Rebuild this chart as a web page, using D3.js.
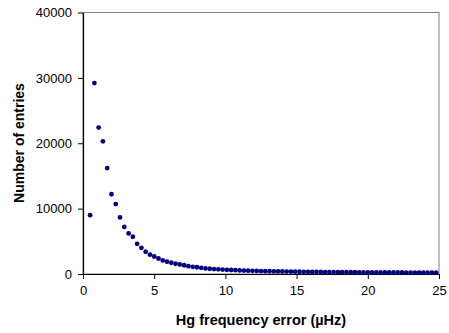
<!DOCTYPE html>
<html>
<head>
<meta charset="utf-8">
<script src="https://cdn.jsdelivr.net/npm/d3@7"></script>
<style>
	body { margin: 0; background: #fff; }
	text { font-family: 'Liberation Sans', Arial, sans-serif; }
</style>
</head>
<body>
<div id="draw"></div>
<script>
// frequency error bins (µHz)
const errorX = [
	0.5, 0.8, 1.1, 1.4, 1.7, 2.0, 2.3, 2.6, 2.9, 3.2, 3.5, 3.8, 4.1, 4.4, 4.7, 5.0,
	5.3, 5.6, 5.9, 6.2, 6.5, 6.8, 7.1, 7.4, 7.7, 8.0, 8.3, 8.6, 8.9, 9.2, 9.5, 9.8,
	10.1, 10.4, 10.7, 11.0, 11.3, 11.6, 11.9, 12.2, 12.5, 12.8, 13.1, 13.4, 13.7, 14.0,
	14.3, 14.6, 14.9, 15.2, 15.5, 15.8, 16.1, 16.4, 16.7, 17.0, 17.3, 17.6, 17.9, 18.2,
	18.5, 18.8, 19.1, 19.4, 19.7, 20.0, 20.3, 20.6, 20.9, 21.2, 21.5, 21.8, 22.1, 22.4,
	22.7, 23.0, 23.3, 23.6, 23.9, 24.2, 24.5, 24.8
];
// number of entries per bin
const entries = [
	9000, 29200, 22400, 20300, 16200, 12200, 10700, 8650, 7200, 6200, 5700, 4620, 4000, 3400, 2950, 2680,
	2370, 2080, 1880, 1720, 1570, 1450, 1340, 1200, 1100, 1030, 950, 860, 800, 760, 720, 680,
	640, 610, 580, 550, 530, 510, 490, 470, 450, 435, 420, 405, 395, 385,
	375, 365, 355, 345, 335, 325, 320, 310, 305, 300, 295, 290, 285, 280,
	275, 270, 265, 260, 255, 250, 248, 245, 240, 238, 235, 232, 230, 228,
	225, 222, 220, 218, 215, 212, 210, 208
];
const xTicks = [0, 5, 10, 15, 20, 25];
const yTicks = [0, 10000, 20000, 30000, 40000];

var margin = { top: 12.5, right: 10, bottom: 59, left: 83 },
	width = 449 - margin.left - margin.right,
	height = 333 - margin.top - margin.bottom;

var svg = d3
	.select('#draw')
	.append('svg')
	.attr('width', 449)
	.attr('height', 333)
	.append('g')
	.attr('transform', 'translate(' + margin.left + ',' + margin.top + ')');

var x = d3.scaleLinear().domain([0, 25]).range([0, 356]);
var y = d3.scaleLinear().domain([0, 40000]).range([height, 0]);

// plot area frame
svg
	.append('rect')
	.attr('x', 0)
	.attr('y', 0)
	.attr('width', 356)
	.attr('height', height)
	.attr('fill', 'none')
	.attr('stroke', '#808080')
	.attr('stroke-width', 1);

// x axis
var xAxis = svg
	.append('g')
	.attr('transform', 'translate(0,' + height + ')')
	.call(d3.axisBottom(x).tickValues(xTicks).tickSize(5).tickPadding(7).tickSizeOuter(0));

// y axis
var yAxis = svg
	.append('g')
	.call(
		d3
			.axisLeft(y)
			.tickValues(yTicks)
			.tickFormat(d3.format('d'))
			.tickSize(5)
			.tickPadding(6)
			.tickSizeOuter(0)
	);

[xAxis, yAxis].forEach(function (g) {
	g.select('.domain').attr('stroke', '#000').attr('stroke-width', 1.2);
	g.selectAll('.tick line').attr('stroke', '#000');
	g.selectAll('.tick text')
		.attr('fill', '#000')
		.style('font-size', '13px')
		.style('font-family', "'Liberation Sans', Arial, sans-serif");
});

// points
var data = errorX.map(function (d, i) {
	return { x: d, y: entries[i] };
});

svg
	.selectAll('circle')
	.data(data)
	.enter()
	.append('circle')
	.attr('cx', function (d) {
		return x(d.x);
	})
	.attr('cy', function (d) {
		return y(d.y);
	})
	.attr('r', 2.4)
	.attr('fill', '#000080');

// X label
svg
	.append('text')
	.attr('x', 178)
	.attr('y', height + 51)
	.attr('text-anchor', 'middle')
	.style('font-weight', 'bold')
	.style('font-size', '14.5px')
	.text('Hg frequency error (µHz)');

// Y label
svg
	.append('text')
	.attr('transform', 'translate(' + (24 - margin.left) + ',' + (143 - margin.top) + ') rotate(-90)')
	.attr('text-anchor', 'middle')
	.style('font-weight', 'bold')
	.style('font-size', '14px')
	.text('Number of entries');
</script>
</body>
</html>
